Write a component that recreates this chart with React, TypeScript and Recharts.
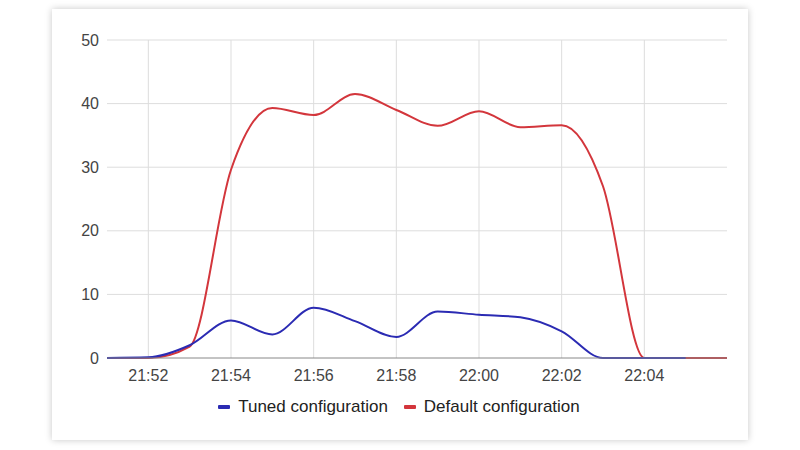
import { LineChart, Line, XAxis, YAxis, CartesianGrid } from "recharts";

// minutes since midnight, 21:51 .. 22:06
const times = [1311, 1312, 1313, 1314, 1315, 1316, 1317, 1318, 1319, 1320, 1321, 1322, 1323, 1324, 1325, 1326];
const tuned = [0, 0.1, 2, 5.9, 3.7, 7.9, 5.8, 3.3, 7.3, 6.8, 6.4, 4.2, 0, 0, 0, null];
const defaults = [0, 0, 1.8, 29.6, 39.3, 38.2, 41.5, 39, 36.5, 38.8, 36.3, 36.6, 27, 0, 0, 0];
const xTicks = [1312, 1314, 1316, 1318, 1320, 1322, 1324];
const yTicks = [0, 10, 20, 30, 40, 50];

const data = times.map((t, i) => ({ t, tuned: tuned[i], def: defaults[i] }));

const BLUE = "#2b2bb3";
const RED = "#d3363c";

const fmt = (v: number) => {
  const h = Math.floor(v / 60);
  const m = v % 60;
  return `${h}:${m < 10 ? "0" + m : m}`;
};

const LegendItem = ({ color, label }: { color: string; label: string }) => (
  <div style={{ display: "flex", alignItems: "center", marginRight: 16 }}>
    <div style={{ width: 12, height: 4, background: color, marginRight: 8, borderRadius: 1 }}></div>
    <span style={{ color: "#222", fontSize: 17 }}>{label}</span>
  </div>
);

export default function App() {
  return (
    <div style={{ position: "absolute", left: 0, top: 0, width: 800, height: 450, background: "#fff", fontFamily: "Arial, 'Liberation Sans', sans-serif" }}>
      <div
        style={{
          position: "absolute",
          left: 52,
          top: 9,
          width: 696,
          height: 431,
          background: "#fff",
          boxShadow: "0 0 7px rgba(0,0,0,0.22)",
        }}
      ></div>
      <div style={{ position: "absolute", left: 0, top: 0 }}>
        <LineChart
          width={800}
          height={450}
          data={data}
          margin={{ top: 40, right: 73, left: 47, bottom: 62 }}
        >
          <CartesianGrid stroke="#dddddd" verticalValues={xTicks} horizontalValues={[10, 20, 30, 40, 50]} />
          <XAxis
            dataKey="t"
            type="number"
            domain={[1311, 1326]}
            ticks={xTicks}
            tickFormatter={fmt}
            height={30}
            axisLine={{ stroke: "#888" }}
            tickLine={false}
            tick={{ fill: "#444", fontSize: 16 }}
            tickMargin={6}
          />
          <YAxis
            type="number"
            domain={[0, 50]}
            ticks={yTicks}
            width={60}
            axisLine={false}
            tickLine={false}
            tick={{ fill: "#444", fontSize: 16 }}
            tickMargin={2}
          />
          <Line
            type="monotone"
            dataKey="def"
            stroke={RED}
            strokeWidth={2}
            dot={false}
            isAnimationActive={false}
          />
          <Line
            type="monotone"
            dataKey="tuned"
            stroke={BLUE}
            strokeWidth={2}
            dot={false}
            isAnimationActive={false}
          />
        </LineChart>
      </div>
      <div
        style={{
          position: "absolute",
          left: 0,
          top: 397,
          width: 800,
          display: "flex",
          justifyContent: "center",
          paddingLeft: 14,
          boxSizing: "border-box",
        }}
      >
        <LegendItem color={BLUE} label="Tuned configuration" />
        <LegendItem color={RED} label="Default configuration" />
      </div>
    </div>
  );
}
